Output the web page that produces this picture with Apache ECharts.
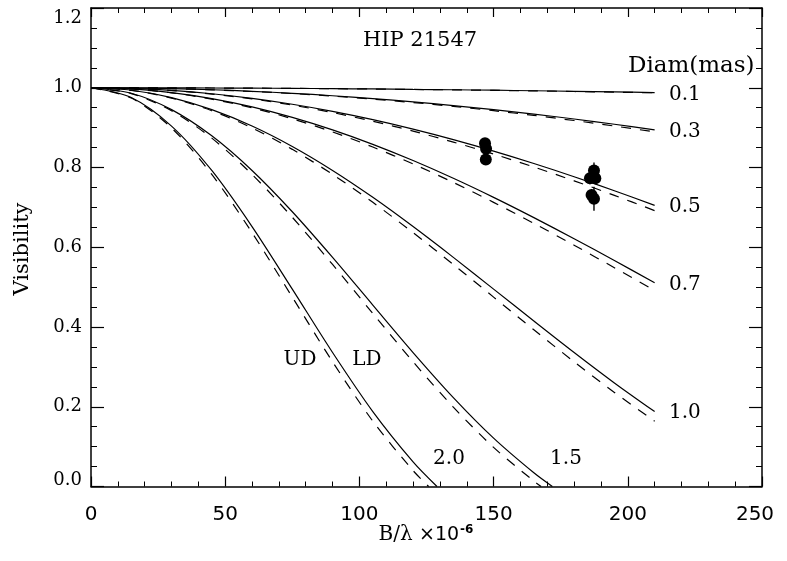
<!DOCTYPE html>
<html><head><meta charset="utf-8">
<script src="https://cdn.jsdelivr.net/npm/echarts@6/dist/echarts.min.js"></script>
<style>html,body{margin:0;padding:0;background:#fff}#c{width:787px;height:561px}</style>
</head><body><div id="c"></div>
<script>
// baseline B/lambda (x 10^-6) sample positions
const bx = [0,15,30,45,60,75,90,105,120,135,150,165,180,195,210];
// dashed (UD) and solid (LD) visibility curves
const ud01 = [1,1.0000,0.9997,0.9994,0.9990,0.9984,0.9977,0.9968,0.9958,0.9947,0.9935,0.9921,0.9906,0.9890,0.9873];
const ld01 = [1,0.9999,0.9998,0.9994,0.9990,0.9985,0.9978,0.9970,0.9960,0.9950,0.9938,0.9925,0.9911,0.9895,0.9879];
const ud03 = [1,0.9994,0.9977,0.9947,0.9906,0.9854,0.9790,0.9715,0.9629,0.9532,0.9424,0.9306,0.9178,0.9040,0.8892];
const ld03 = [1,0.9994,0.9978,0.9950,0.9911,0.9861,0.9800,0.9729,0.9647,0.9554,0.9451,0.9339,0.9217,0.9085,0.8944];
const ud05 = [1,0.9982,0.9930,0.9842,0.9720,0.9565,0.9378,0.9160,0.8913,0.8637,0.8337,0.8012,0.7666,0.7301,0.6919];
const ld05 = [1,0.9983,0.9933,0.9850,0.9734,0.9586,0.9408,0.9200,0.8963,0.8700,0.8412,0.8101,0.7769,0.7418,0.7051];
const ud07 = [1,0.9968,0.9873,0.9715,0.9497,0.9222,0.8892,0.8513,0.8089,0.7625,0.7126,0.6600,0.6051,0.5487,0.4914];
const ld07 = [1,0.9970,0.9879,0.9729,0.9521,0.9258,0.8944,0.8581,0.8175,0.7730,0.7251,0.6743,0.6213,0.5667,0.5110];
const ud10 = [1,0.9935,0.9741,0.9424,0.8992,0.8455,0.7827,0.7126,0.6366,0.5568,0.4750,0.3930,0.3128,0.2359,0.1638];
const ld10 = [1,0.9938,0.9754,0.9451,0.9039,0.8526,0.7925,0.7251,0.6518,0.5746,0.4950,0.4150,0.3360,0.2597,0.1878];
const ud15 = [1,0.9854,0.9424,0.8736,0.7827,0.6752,0.5568,0.4339,0.3128,0.1991,0.0981,0.0135];
const ld15 = [1,0.9861,0.9451,0.8794,0.7925,0.6890,0.5746,0.4550,0.3360,0.2231,0.1214,0.0344];
const ud20 = [1,0.9741,0.8992,0.7827,0.6366,0.4750,0.3128,0.1638,0.0398];
const ld20 = [1,0.9754,0.9039,0.7925,0.6518,0.4950,0.3360,0.1878,0.0616];
// where the large-diameter curves reach zero visibility
const zeroUD15 = 167.7, zeroLD15 = 171.9, zeroUD20 = 125.8, zeroLD20 = 128.9;
// measured visibilities
const obsB = [146.8, 147.2, 147.1, 187.4, 185.9, 187.9, 186.5, 187.4];
const obsV = [0.861, 0.847, 0.820, 0.7925, 0.773, 0.773, 0.731, 0.7215];
const obsErr = [0.01, 0.01, 0.01, 0.02, 0.015, 0.015, 0.015, 0.03];
// tick labels
const yTicks = ['0.0','0.2','0.4','0.6','0.8','1.0','1.2'];
const xTicks = ['0','50','100','150','200','250'];
const diamLabels = ['0.1','0.3','0.5','0.7','1.0'];

function pairs(vals, zero) {
  const d = vals.map((v, i) => [bx[i], v]);
  if (zero !== undefined) d.push([zero, 0]);
  return d;
}
const curves = [
  [ud01, true], [ld01, false], [ud03, true], [ld03, false], [ud05, true], [ld05, false],
  [ud07, true], [ld07, false], [ud10, true], [ld10, false]
].map(c => ({ data: pairs(c[0]), dashed: c[1] }));
curves.push({ data: pairs(ud15, zeroUD15), dashed: true });
curves.push({ data: pairs(ld15, zeroLD15), dashed: false });
curves.push({ data: pairs(ud20, zeroUD20), dashed: true });
curves.push({ data: pairs(ld20, zeroLD20), dashed: false });

const series = curves.map(c => ({
  type: 'line', data: c.data, smooth: 0.3, symbol: 'none',
  lineStyle: { color: '#000', width: 1.2, type: c.dashed ? [10, 9] : 'solid' },
  silent: true, z: 2
}));
series.push({
  type: 'custom',
  data: obsB.map((b, i) => [b, obsV[i] - obsErr[i], obsV[i] + obsErr[i]]),
  encode: { x: 0, y: [1, 2] },
  renderItem: (params, api) => {
    const x = api.value(0);
    const p1 = api.coord([x, api.value(1)]);
    const p2 = api.coord([x, api.value(2)]);
    return { type: 'line', shape: { x1: p1[0], y1: p1[1], x2: p2[0], y2: p2[1] }, style: { stroke: '#000', lineWidth: 1.4 } };
  },
  z: 3
});
series.push({
  type: 'scatter', data: obsB.map((b, i) => [b, obsV[i]]),
  symbol: 'circle', symbolSize: 12, itemStyle: { color: '#000', opacity: 1 }, z: 4
});

const serif = 'DejaVu Serif';
const axisLineStyle = { color: '#000', width: 1.5 };
function xAxis(pos, showLabel, tl, ml) {
  return {
    type: 'value', min: 0, max: 250, interval: 50, position: pos,
    axisLine: { show: true, onZero: false, lineStyle: axisLineStyle },
    axisTick: { show: true, inside: true, length: tl, lineStyle: { color: '#000', width: 1.2 } },
    minorTick: { show: true, splitNumber: 5, length: ml, lineStyle: { color: '#000', width: 1 } },
    splitLine: { show: false }, minorSplitLine: { show: false },
    axisLabel: {
      show: showLabel, margin: 18, color: '#000', fontFamily: 'DejaVu Sans', fontSize: 20,
      formatter: v => { const s = xTicks[Math.round(v / 50)]; return v === 250 ? '{e|' + s + '}' : s; },
      rich: { e: { fontFamily: 'DejaVu Sans', fontSize: 20, color: '#000', padding: [0, 14, 0, 0] } }
    }
  };
}
function yAxis(pos, showLabel) {
  return {
    type: 'value', min: 0, max: 1.2, interval: 0.2, position: pos,
    axisLine: { show: true, onZero: false, lineStyle: axisLineStyle },
    axisTick: { show: true, inside: true, length: 13, lineStyle: { color: '#000', width: 1.2 } },
    minorTick: { show: true, splitNumber: 4, length: 6, lineStyle: { color: '#000', width: 1 } },
    splitLine: { show: false }, minorSplitLine: { show: false },
    axisLabel: {
      show: showLabel, margin: 9, color: '#000', fontFamily: serif, fontSize: 18,
      formatter: v => {
        const s = yTicks[Math.round(v / 0.2)];
        if (Math.abs(v - 1.2) < 1e-6) return '{t|' + s + '}';
        if (Math.abs(v) < 1e-6) return '{b|' + s + '}';
        return s;
      },
      rich: {
        t: { fontFamily: serif, fontSize: 18, color: '#000', padding: [20, 0, 0, 0] },
        b: { fontFamily: serif, fontSize: 18, color: '#000', padding: [0, 0, 12, 0] }
      }
    }
  };
}

const txt = (s, x, y, size, align) => ({
  type: 'text', x: x, y: y, silent: true,
  style: { text: s, fill: '#000', font: size + 'px "' + serif + '"', textAlign: align || 'center', textVerticalAlign: 'middle' }
});
const labelY = [95, 132, 207, 285, 413];
const graphics = [
  txt('HIP 21547', 420, 41, 21),
  txt('Diam(mas)', 628, 66, 23, 'left'),
  txt('UD', 300, 360, 20),
  txt('LD', 367, 360, 20),
  txt('2.0', 449, 459, 20),
  txt('1.5', 566, 459, 20)
];
diamLabels.forEach((s, i) => graphics.push(txt(s, 669, labelY[i], 20, 'left')));
graphics.push({
  type: 'text', x: 23, y: 249, rotation: Math.PI / 2, silent: true,
  style: { text: 'Visibility', fill: '#000', font: '21px "' + serif + '"', textAlign: 'center', textVerticalAlign: 'middle' }
});
graphics.push({
  type: 'text', x: 426, y: 535, silent: true,
  style: {
    text: '{a|B/λ }{b|×10}{c|-6}', textAlign: 'center', textVerticalAlign: 'middle',
    rich: {
      a: { fontFamily: serif, fontSize: 20, fill: '#000', color: '#000' },
      b: { fontFamily: 'DejaVu Sans', fontSize: 19, fill: '#000', color: '#000' },
      c: { fontFamily: 'DejaVu Sans', fontSize: 12, fontWeight: 'bold', fill: '#000', color: '#000', verticalAlign: 'top', padding: [0, 0, 10, 1] }
    }
  }
});

const chart = echarts.init(document.getElementById('c'));
chart.setOption({
  animation: false,
  backgroundColor: '#fff',
  grid: { left: 91, right: 25, top: 8, bottom: 74.5, containLabel: false },
  xAxis: [xAxis('bottom', true, 10, 5), xAxis('top', false, 9, 5)],
  yAxis: [yAxis('left', true), yAxis('right', false)],
  series: series,
  graphic: graphics
});
</script></body></html>
